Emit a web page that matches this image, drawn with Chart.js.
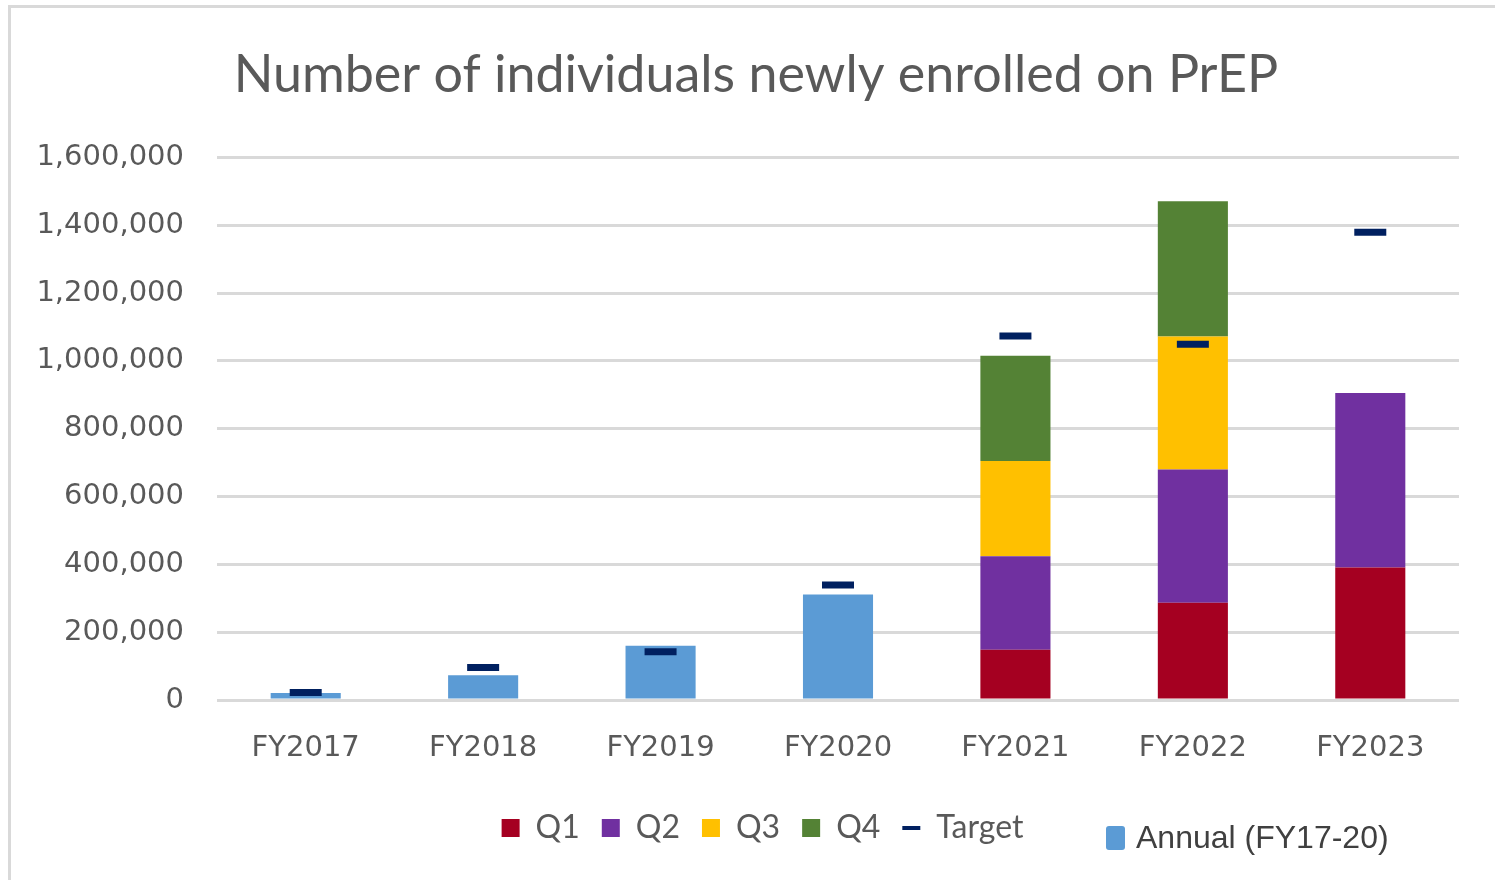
<!DOCTYPE html>
<html>
<head>
<meta charset="utf-8">
<script src="https://cdn.jsdelivr.net/npm/chart.js@4/dist/chart.umd.min.js"></script>
<style>
  body { margin: 0; background: #fff; overflow: hidden; }
  #frame { position: absolute; left: 8px; top: 5px; width: 1490px; height: 880px;
           border-left: 3px solid #d9d9d9; border-top: 3px solid #d9d9d9; }
  #wrap { position: absolute; left: 11px; top: 8px; width: 1484px; height: 872px; }
  #annual { position: absolute; left: 1106px; top: 819px; font-family: "Liberation Sans", Arial, sans-serif;
            font-size: 32px; color: #404040; white-space: nowrap; }
  #annual .box { display: inline-block; width: 19px; height: 24px; background: #5b9bd5;
                 border-radius: 3px; margin-right: 11px; vertical-align: -2px; }
</style>
</head>
<body>
<div id="frame"></div>
<div id="wrap"><canvas id="chartPrep"></canvas></div>
<div id="annual"><span class="box"></span>Annual (FY17-20)</div>
<script>
// values
var fiscalYears = ['FY2017', 'FY2018', 'FY2019', 'FY2020', 'FY2021', 'FY2022', 'FY2023'];
var annualValues = [21000, 73000, 160000, 311000, null, null, null];
var q1Values = [null, null, null, null, 148000, 287000, 391000];
var q2Values = [null, null, null, null, 276000, 393000, 514000];
var q3Values = [null, null, null, null, 281000, 392000, null];
var q4Values = [null, null, null, null, 310000, 399000, null];
var targetValues = [22000, 96000, 142000, 339000, 1073000, 1049000, 1379000];
var yTickValues = [0, 200000, 400000, 600000, 800000, 1000000, 1200000, 1400000, 1600000];

var legendOrder = ['Q1', 'Q2', 'Q3', 'Q4', 'Target'];
var textGrey = '#595959';
var padLeft = 20;

barSet = function(label, values, color) {
  return {
    type: 'bar',
    label: label,
    data: values,
    backgroundColor: color,
    borderWidth: 0,
    barPercentage: 0.395,
    categoryPercentage: 1.0
  };
};

formatNumber = function(value) {
  return Number(value).toLocaleString('en-US');
};

// title and legend in the picture sit a little right of centre
var boxNudge = {
  id: 'boxNudge',
  afterLayout: function(chart) {
    chart.legend.left += 35;
    chart.titleBlock.left += 22;
  }
};

var config = {
  type: 'bar',
  data: {
    labels: fiscalYears,
    datasets: [
      // first dataset is drawn on top, so the target dashes go first
      {
        type: 'line',
        label: 'Target',
        data: targetValues,
        showLine: false,
        stack: 'target',
        borderColor: '#002060',
        backgroundColor: '#002060',
        pointStyle: 'line',
        pointRadius: 16,
        pointHoverRadius: 16,
        pointBorderWidth: 7,
        pointBorderColor: '#002060'
      },
      barSet('Annual (FY17-20)', annualValues, '#5b9bd5'),
      barSet('Q1', q1Values, '#a50021'),
      barSet('Q2', q2Values, '#7030a0'),
      barSet('Q3', q3Values, '#ffc000'),
      barSet('Q4', q4Values, '#548235')
    ]
  },
  plugins: [boxNudge],
  options: {
    responsive: true,
    maintainAspectRatio: false,
    animation: false,
    layout: { padding: { left: padLeft, right: 36, top: 0, bottom: 26 } },
    plugins: {
      tooltip: { enabled: false },
      title: {
        display: true,
        text: 'Number of individuals newly enrolled on PrEP',
        color: textGrey,
        font: { family: 'Lato', size: 52, weight: 'normal' },
        padding: { top: 36, bottom: 51 }
      },
      legend: {
        display: true,
        position: 'bottom',
        labels: {
          usePointStyle: true,
          pointStyleWidth: 18,
          boxHeight: 18,
          padding: 22,
          color: textGrey,
          font: { family: 'Lato', size: 32 },
          filter: function(item) { return legendOrder.indexOf(item.text) >= 0; },
          sort: function(a, b) { return legendOrder.indexOf(a.text) - legendOrder.indexOf(b.text); },
          generateLabels: function(chart) {
            var items = Chart.defaults.plugins.legend.labels.generateLabels(chart);
            items.forEach(function(item) {
              if (item.text == 'Target') {
                item.pointStyle = 'line';
                item.lineWidth = 4;
                item.strokeStyle = '#002060';
              } else {
                item.pointStyle = 'rect';
                item.lineWidth = 0;
              }
            });
            return items;
          }
        }
      }
    },
    scales: {
      x: {
        stacked: true,
        grid: { display: false, drawTicks: false },
        border: { display: false },
        ticks: { color: textGrey, padding: 31, font: { family: 'DejaVu Sans', size: 29 } },
        afterFit: function(axis) { axis.height = 90; }
      },
      y: {
        stacked: true,
        min: 0,
        max: 1600000,
        afterBuildTicks: function(axis) {
          axis.ticks = yTickValues.map(function(v) { return { value: v }; });
        },
        afterFit: function(axis) { axis.width = 206 - padLeft; },
        grid: { color: '#d9d9d9', lineWidth: 3, drawTicks: false },
        border: { display: false },
        ticks: {
          color: textGrey,
          padding: 33,
          font: { family: 'DejaVu Sans', size: 29 },
          callback: function(value) { return formatNumber(value); }
        }
      }
    }
  }
};

window.onload = function() {
  var ctx = document.getElementById('chartPrep').getContext('2d');
  window.chartPrep = new Chart(ctx, config);
};
</script>
</body>
</html>
